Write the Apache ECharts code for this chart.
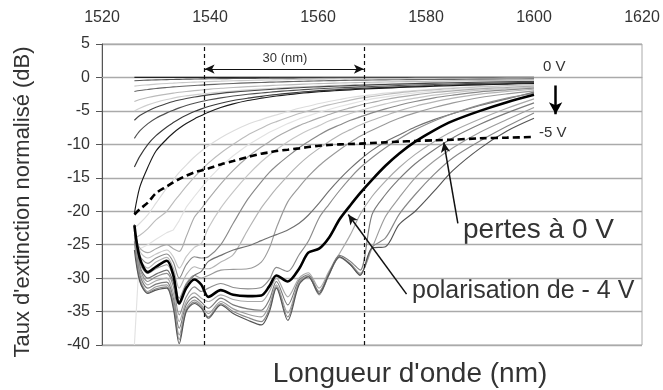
<!DOCTYPE html>
<html><head><meta charset="utf-8">
<script src="https://cdn.jsdelivr.net/npm/echarts@6/dist/echarts.min.js"></script>
<style>html,body{margin:0;padding:0;background:#fff}#c{width:663px;height:390px}</style>
</head><body><div id="c"></div>
<script>
// Wavelength grid (nm)
const wavelengths = [1526,1527,1528.5,1530,1532,1533.2,1534.3,1535.6,1537.1,1538.4,1539.7,1542,1544.3,1547,1549.5,1551,1552.3,1554.4,1556.5,1558.2,1560.2,1562,1564,1566,1567.8,1570,1572.5,1575,1578,1581.5,1585,1590,1595,1600];
const xTickValues = [1520,1540,1560,1580,1600,1620];
const yTickValues = [5,0,-5,-10,-15,-20,-25,-30,-35,-40];

// Normalised extinction (dB) for bias 0 V ... -5 V (step -0.2 V)
const v_0_0 = [0,0,0,0,0,0,0,0,0,0,0,0,0,0,0,0,0,0,0,0,0,0,0,0,0,0,0,0,0,0,0,0,0,0];
const v_0_2 = [-0.5,-0.45,-0.4,-0.36,-0.32,-0.3,-0.28,-0.26,-0.24,-0.22,-0.2,-0.18,-0.16,-0.14,-0.12,-0.11,-0.1,-0.1,-0.09,-0.08,-0.08,-0.07,-0.07,-0.06,-0.06,-0.05,-0.05,-0.05,-0.04,-0.04,-0.03,-0.03,-0.02,-0.02];
const v_0_4 = [-1.3,-1.2,-1.1,-1.0,-0.9,-0.85,-0.8,-0.75,-0.7,-0.66,-0.62,-0.56,-0.5,-0.45,-0.4,-0.38,-0.36,-0.33,-0.3,-0.28,-0.26,-0.24,-0.22,-0.2,-0.19,-0.18,-0.17,-0.16,-0.15,-0.14,-0.13,-0.12,-0.11,-0.1];
const v_0_6 = [-2.1,-1.95,-1.8,-1.65,-1.5,-1.42,-1.35,-1.28,-1.2,-1.14,-1.08,-0.98,-0.9,-0.82,-0.75,-0.71,-0.68,-0.63,-0.58,-0.55,-0.51,-0.48,-0.45,-0.42,-0.4,-0.38,-0.36,-0.34,-0.32,-0.3,-0.28,-0.26,-0.24,-0.22];
const v_0_8 = [-3.6,-3.3,-3.0,-2.75,-2.5,-2.35,-2.22,-2.1,-1.98,-1.88,-1.78,-1.62,-1.5,-1.38,-1.28,-1.22,-1.17,-1.1,-1.03,-0.98,-0.92,-0.88,-0.83,-0.79,-0.76,-0.72,-0.68,-0.64,-0.6,-0.56,-0.52,-0.47,-0.43,-0.4];
const v_1_0 = [-5.0,-4.6,-4.1,-3.7,-3.3,-3.1,-2.9,-2.75,-2.6,-2.48,-2.36,-2.18,-2.02,-1.86,-1.73,-1.66,-1.6,-1.5,-1.41,-1.35,-1.28,-1.22,-1.16,-1.1,-1.05,-1.0,-0.95,-0.9,-0.84,-0.78,-0.72,-0.65,-0.59,-0.54];
const v_1_2 = [-6.4,-5.7,-5.0,-4.45,-3.9,-3.6,-3.38,-3.15,-2.93,-2.75,-2.6,-2.38,-2.2,-2.02,-1.88,-1.8,-1.73,-1.63,-1.54,-1.47,-1.4,-1.34,-1.28,-1.22,-1.17,-1.11,-1.05,-0.99,-0.93,-0.86,-0.8,-0.72,-0.65,-0.6];
const v_1_4 = [-9.1,-8.0,-6.9,-6.1,-5.3,-4.9,-4.55,-4.2,-3.85,-3.6,-3.38,-3.05,-2.78,-2.52,-2.32,-2.21,-2.12,-1.99,-1.87,-1.78,-1.69,-1.62,-1.55,-1.48,-1.42,-1.35,-1.28,-1.21,-1.13,-1.05,-0.98,-0.88,-0.8,-0.73];
const v_1_6 = [-13.4,-11.8,-10.0,-8.7,-7.4,-6.75,-6.2,-5.65,-5.1,-4.7,-4.35,-3.85,-3.45,-3.1,-2.82,-2.67,-2.55,-2.38,-2.22,-2.1,-1.98,-1.89,-1.8,-1.71,-1.64,-1.56,-1.48,-1.4,-1.31,-1.22,-1.13,-1.02,-0.93,-0.85];
const v_1_8 = [-20.3,-16.4,-13.4,-11.0,-9.2,-8.3,-7.6,-6.9,-6.2,-5.7,-5.2,-4.5,-3.95,-3.45,-3.1,-2.92,-2.78,-2.58,-2.4,-2.27,-2.14,-2.04,-1.94,-1.85,-1.77,-1.68,-1.6,-1.51,-1.42,-1.32,-1.23,-1.11,-1.01,-0.93];
const v_2_0 = [-22.5,-21.8,-20.5,-18.8,-16.5,-15.3,-14.2,-13.1,-11.9,-11.0,-10.2,-9.0,-8.0,-7.0,-6.3,-5.9,-5.6,-5.1,-4.6,-4.3,-3.9,-3.6,-3.3,-3.0,-2.8,-2.6,-2.35,-2.15,-1.95,-1.75,-1.55,-1.35,-1.2,-1.05];
const v_2_2 = [-24.0,-23.6,-22.6,-21.3,-20.0,-18.7,-17.6,-16.3,-14.9,-13.8,-12.8,-11.3,-10.0,-8.6,-7.6,-7.0,-6.6,-6.0,-5.4,-5.0,-4.5,-4.1,-3.75,-3.4,-3.1,-2.85,-2.55,-2.3,-2.05,-1.85,-1.65,-1.45,-1.27,-1.1];
const v_2_4 = [-40,-25.6,-25.0,-24.2,-23.2,-22.8,-21.4,-19.4,-17.8,-16.5,-15.2,-13.3,-11.7,-10.1,-8.9,-8.2,-7.7,-6.9,-6.2,-5.75,-5.2,-4.8,-4.35,-3.95,-3.6,-3.2,-2.9,-2.6,-2.3,-2.05,-1.8,-1.55,-1.35,-1.2];
const v_2_6 = [-23.0,-25.5,-26.2,-25.6,-25.0,-25.6,-26.0,-23.8,-20.9,-19.6,-18.2,-15.9,-13.9,-11.9,-10.4,-9.6,-8.9,-8.0,-7.2,-6.65,-6.05,-5.55,-5.0,-4.55,-4.15,-3.75,-3.3,-2.95,-2.6,-2.25,-2.0,-1.7,-1.5,-1.3];
const v_2_8 = [-22.5,-26.0,-27.0,-26.4,-25.8,-26.8,-28.5,-26.8,-25.4,-24.8,-22.5,-19.5,-17.1,-14.6,-12.6,-11.6,-10.8,-9.6,-8.6,-7.9,-7.2,-6.5,-5.95,-5.4,-4.95,-4.45,-3.95,-3.5,-3.1,-2.65,-2.3,-1.9,-1.65,-1.45];
const v_3_0 = [-22.3,-26.6,-27.8,-27.0,-26.4,-27.6,-30.0,-28.0,-26.8,-27.0,-26.8,-25.0,-21.8,-18.2,-15.6,-14.2,-13.2,-11.8,-10.5,-9.6,-8.6,-7.8,-7.1,-6.4,-5.9,-5.3,-4.7,-4.15,-3.6,-3.05,-2.65,-2.15,-1.85,-1.6];
const v_3_2 = [-22.2,-27.2,-28.5,-27.6,-26.9,-28.5,-31.5,-29.5,-28.3,-28.6,-28.6,-27.6,-26.5,-22.8,-19.5,-17.9,-16.6,-14.7,-13.0,-11.8,-10.6,-9.6,-8.6,-7.8,-7.1,-6.4,-5.7,-5.0,-4.3,-3.65,-3.1,-2.5,-2.1,-1.75];
const v_3_4 = [-22.0,-27.8,-29.3,-28.6,-28.0,-29.8,-33.0,-30.8,-29.6,-30.0,-29.6,-28.8,-28.7,-28.6,-27.6,-25.5,-22.5,-18.6,-16.4,-14.8,-13.2,-12.0,-10.8,-9.7,-8.8,-7.9,-6.95,-6.1,-5.3,-4.5,-3.8,-3.0,-2.45,-2.0];
const v_3_6 = [-22.0,-28.2,-30.0,-29.4,-28.8,-30.6,-33.5,-31.0,-29.6,-29.0,-27.5,-26.6,-25.8,-25.2,-24.4,-23.9,-23.5,-22.8,-21.8,-20.6,-18.8,-17.0,-15.2,-13.6,-12.3,-10.9,-9.6,-8.6,-7.4,-6.3,-5.4,-4.2,-3.2,-2.2];
const v_3_8 = [-22.0,-28.5,-30.5,-29.8,-29.3,-31.2,-35.5,-32.8,-31.3,-32.0,-31.5,-30.8,-31.4,-31.6,-31.4,-30.2,-28.4,-29.0,-26.5,-24.5,-21.0,-19.0,-16.9,-15.0,-13.5,-12.0,-10.5,-9.2,-7.8,-6.5,-5.4,-4.1,-3.1,-2.35];
const v_4_0 = [-22.1,-27.0,-29.1,-28.3,-27.4,-29.5,-33.8,-31.5,-30.2,-31.0,-32.8,-31.8,-32.5,-32.7,-32.6,-31.2,-29.6,-30.5,-28.6,-26.2,-25.6,-24.0,-21.2,-19.1,-17.3,-15.3,-13.2,-11.4,-9.6,-7.9,-6.5,-5.0,-3.7,-2.6];
const v_4_2 = [-22.3,-29.0,-31.0,-30.4,-30.0,-32.2,-36.5,-33.5,-32.2,-33.0,-33.5,-32.5,-33.2,-33.5,-33.5,-32.0,-30.0,-32.8,-30.0,-29.2,-31.5,-29.0,-26.3,-23.5,-20.5,-17.8,-15.5,-13.5,-11.5,-9.6,-8.0,-6.2,-4.6,-3.2];
const v_4_4 = [-22.8,-29.5,-31.5,-30.9,-30.6,-33.0,-37.5,-34.0,-32.8,-33.6,-34.5,-33.0,-34.0,-34.6,-34.8,-33.2,-30.5,-34.0,-30.3,-29.5,-32.0,-29.3,-26.6,-27.5,-28.8,-20.5,-17.5,-15.2,-12.9,-10.8,-9.0,-7.0,-5.3,-3.8];
const v_4_6 = [-23.5,-30.0,-32.0,-31.3,-31.0,-33.6,-38.5,-34.5,-33.3,-34.0,-35.3,-33.5,-34.6,-35.4,-35.8,-34.0,-31.0,-35.2,-30.6,-29.7,-32.3,-29.5,-26.8,-27.8,-29.3,-25.5,-20.8,-18.0,-15.0,-12.5,-10.5,-8.2,-6.3,-4.5];
const v_4_8 = [-24.5,-30.3,-32.2,-31.6,-31.3,-34.0,-39.2,-34.8,-33.6,-34.3,-35.8,-33.8,-35.0,-35.9,-36.5,-34.6,-31.3,-35.8,-30.8,-29.8,-32.5,-29.6,-26.9,-28.0,-29.5,-25.4,-24.0,-20.5,-17.5,-14.5,-12.0,-9.5,-7.3,-5.3];
const v_5_0 = [-25.8,-30.5,-32.3,-31.8,-31.5,-34.5,-39.8,-35.0,-33.8,-34.5,-36.0,-34.0,-35.3,-36.3,-37.0,-35.0,-31.5,-36.3,-31.0,-29.8,-32.3,-29.5,-26.8,-28.0,-29.6,-25.5,-25.3,-22.0,-20.0,-17.0,-13.9,-10.6,-8.0,-6.1];
// Losses at 0 V (dashed)
const lossAt0V = [-20.5,-19.7,-18.7,-17.3,-16.3,-15.7,-15.2,-14.7,-14.2,-13.9,-13.6,-13.0,-12.5,-11.9,-11.4,-11.2,-11.0,-10.8,-10.6,-10.4,-10.2,-10.1,-10.0,-9.95,-9.9,-9.8,-9.7,-9.6,-9.5,-9.4,-9.3,-9.1,-9.0,-8.9];
// Reference wavelengths of the 30 nm window
const windowEdges = [1539, 1568.5];

const curveValues = [v_0_0,v_0_2,v_0_4,v_0_6,v_0_8,v_1_0,v_1_2,v_1_4,v_1_6,v_1_8,v_2_0,v_2_2,v_2_4,v_2_6,v_2_8,v_3_0,v_3_2,v_3_4,v_3_6,v_3_8,v_4_0,v_4_2,v_4_4,v_4_6,v_4_8,v_5_0];
const curveNames = ['0 V','-0.2 V','-0.4 V','-0.6 V','-0.8 V','-1 V','-1.2 V','-1.4 V','-1.6 V','-1.8 V','-2 V','-2.2 V','-2.4 V','-2.6 V','-2.8 V','-3 V','-3.2 V','-3.4 V','-3.6 V','-3.8 V','-4 V','-4.2 V','-4.4 V','-4.6 V','-4.8 V','-5 V'];

// styles (separate from data)
const curveColors = ['#222','#555','#c8c8c8','#666','#bbb','#cfcfcf','#444','#505050','#3a3a3a','#1a1a1a','#dcdcdc','#bdbdbd','#e2e2e2','#aaaaaa','#c6c6c6','#8a8a8a','#b4b4b4','#9a9a9a','#707070','#8c8c8c','#000','#a8a8a8','#7a7a7a','#9c9c9c','#888','#555'];
const curveWidths = curveValues.map((_, i) => i === 20 ? 2.6 : 1.15);
const FONT = '"Liberation Sans", Arial, sans-serif';

const series = [];
curveValues.forEach((vals, i) => {
  if (i === 20) return;
  series.push({
    name: curveNames[i], type: 'line', showSymbol: false, silent: true,
    smooth: i === 12 ? false : 0.3,
    data: wavelengths.map((x, k) => [x, vals[k]]),
    lineStyle: { color: curveColors[i], width: curveWidths[i] }
  });
});
series.push({
  name: curveNames[20], type: 'line', showSymbol: false, silent: true,
  smooth: 0.3,
  data: wavelengths.map((x, k) => [x, v_4_0[k]]),
  lineStyle: { color: curveColors[20], width: curveWidths[20] }
});
series.push({
  name: 'pertes à 0 V', type: 'line', showSymbol: false, silent: true,
  smooth: 0.3,
  data: wavelengths.map((x, k) => [x, lossAt0V[k]]),
  lineStyle: { color: '#000', width: 2.6, type: [7, 4] },
  markLine: {
    silent: true, animation: false, symbol: ['none', 'none'],
    label: { show: false },
    lineStyle: { color: '#111', width: 1.2, type: [4, 3] },
    data: [
      { xAxis: windowEdges[0] },
      { xAxis: windowEdges[1] },
      [ { coord: [windowEdges[0], 1.25], symbol: 'arrow', symbolSize: [7, 10], lineStyle: { type: 'solid', width: 1.2, color: '#111' } },
        { coord: [windowEdges[1], 1.25], symbol: 'arrow', symbolSize: [7, 10] } ],
      [ { coord: [1585.9, -21.8], symbol: 'none', lineStyle: { type: 'solid', width: 1.5, color: '#111' } },
        { coord: [1583.3, -9.7], symbol: 'arrow', symbolSize: [7, 10] } ],
      [ { coord: [1576.4, -32.4], symbol: 'none', lineStyle: { type: 'solid', width: 1.5, color: '#111' } },
        { coord: [1565.6, -20.5], symbol: 'arrow', symbolSize: [7, 10] } ],
      [ { coord: [1604, -1.2], symbol: 'none', lineStyle: { type: 'solid', width: 2.5, color: '#000' } },
        { coord: [1604, -5.5], symbol: 'arrow', symbolSize: [10, 12] } ]
    ]
  }
});

const chart = echarts.init(document.getElementById('c'), null, { renderer: 'canvas' });
chart.setOption({
  animation: false,
  backgroundColor: '#fff',
  grid: { left: 102, right: 21, top: 44, bottom: 45, show: true, borderColor: '#aaa', borderWidth: 1 },
  xAxis: {
    type: 'value', position: 'top', min: xTickValues[0], max: xTickValues[xTickValues.length - 1], interval: 20,
    axisLine: { show: true, lineStyle: { color: '#aaa' } },
    axisTick: { show: false }, splitLine: { show: false },
    axisLabel: { color: '#333', fontSize: 16, margin: 18, fontFamily: FONT, formatter: v => String(v) }
  },
  yAxis: {
    type: 'value', min: yTickValues[yTickValues.length - 1], max: yTickValues[0], interval: 5,
    axisLine: { show: true, lineStyle: { color: '#555' } },
    axisTick: { show: true, length: 6, lineStyle: { color: '#555' } },
    splitLine: { show: true, lineStyle: { color: '#aaa', width: 1.3 } },
    axisLabel: { color: '#333', fontSize: 16, margin: 12, fontFamily: FONT, formatter: v => String(v) }
  },
  series: series,
  graphic: [
    { type: 'text', x: 23, y: 202, rotation: Math.PI / 2, silent: true,
      style: { text: "Taux d'extinction normalisé (dB)", fontSize: 22, fontFamily: FONT, fill: '#333', textAlign: 'center', textVerticalAlign: 'middle', align: 'center', verticalAlign: 'middle' } },
    { type: 'text', x: 410, y: 374, silent: true,
      style: { text: "Longueur d'onde (nm)", fontSize: 28, fontFamily: FONT, fill: '#333', textAlign: 'center', textVerticalAlign: 'middle', align: 'center', verticalAlign: 'middle' } },
    { type: 'text', x: 285, y: 58, silent: true,
      style: { text: '30 (nm)', fontSize: 13, fontFamily: FONT, fill: '#333', textAlign: 'center', textVerticalAlign: 'middle', align: 'center', verticalAlign: 'middle' } },
    { type: 'text', x: 543, y: 67, silent: true,
      style: { text: '0 V', fontSize: 15, fontFamily: FONT, fill: '#333', textAlign: 'left', textVerticalAlign: 'middle', align: 'left', verticalAlign: 'middle' } },
    { type: 'text', x: 539, y: 133, silent: true,
      style: { text: '-5 V', fontSize: 15, fontFamily: FONT, fill: '#333', textAlign: 'left', textVerticalAlign: 'middle', align: 'left', verticalAlign: 'middle' } },
    { type: 'text', x: 463, y: 230, silent: true,
      style: { text: 'pertes à 0 V', fontSize: 28, fontFamily: FONT, fill: '#333', textAlign: 'left', textVerticalAlign: 'middle', align: 'left', verticalAlign: 'middle' } },
    { type: 'text', x: 412, y: 291, silent: true,
      style: { text: 'polarisation de - 4 V', fontSize: 25, fontFamily: FONT, fill: '#333', textAlign: 'left', textVerticalAlign: 'middle', align: 'left', verticalAlign: 'middle' } }
  ]
});
</script></body></html>
